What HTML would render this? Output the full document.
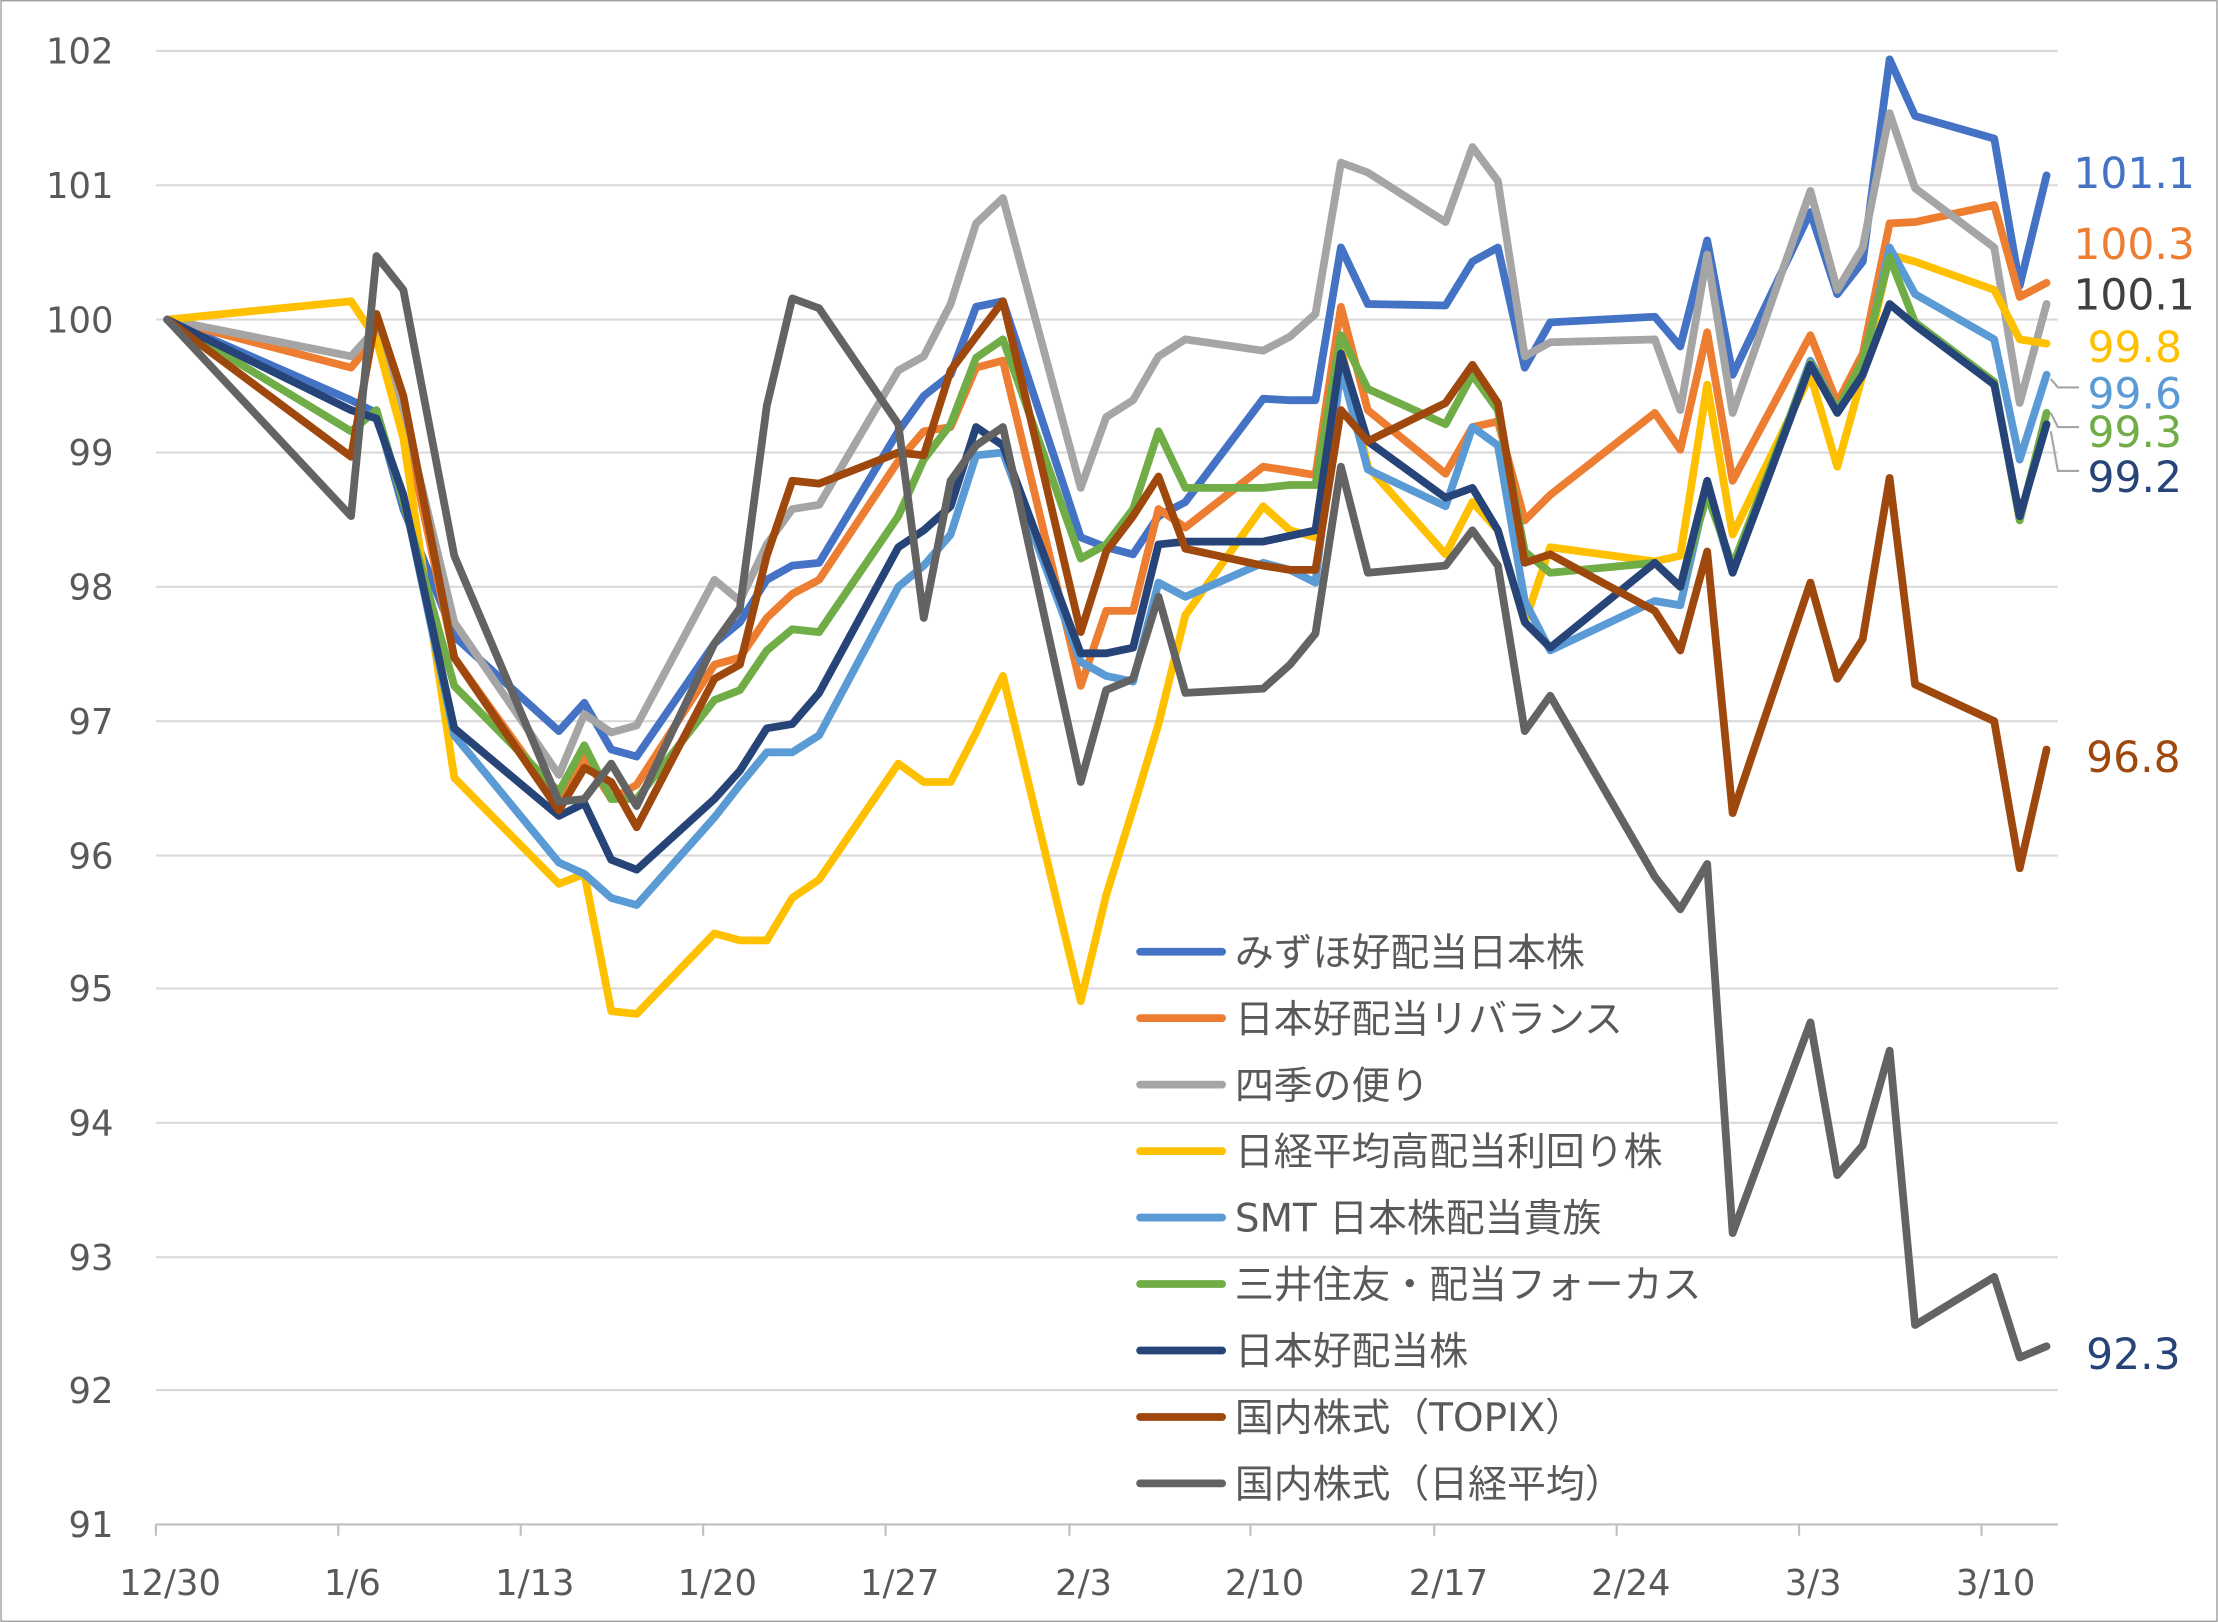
<!DOCTYPE html>
<html><head><meta charset="utf-8"><style>
html,body{margin:0;padding:0;background:#fff}
svg{display:block}
text{font-family:"DejaVu Sans","Noto Sans CJK JP",sans-serif}
</style></head><body>
<svg width="2218" height="1622" viewBox="0 0 1568 1147" xmlns="http://www.w3.org/2000/svg">
<rect x="0.5" y="0.5" width="1567" height="1146" fill="#fff" stroke="#a0a0a0"/>
<g stroke="#d9d9d9" stroke-width="1.5">
<line x1="110" x2="1455" y1="36" y2="36"/><line x1="110" x2="1455" y1="131" y2="131"/>
<line x1="110" x2="1455" y1="226" y2="226"/><line x1="110" x2="1455" y1="320" y2="320"/>
<line x1="110" x2="1455" y1="415" y2="415"/><line x1="110" x2="1455" y1="510" y2="510"/>
<line x1="110" x2="1455" y1="605" y2="605"/><line x1="110" x2="1455" y1="699" y2="699"/>
<line x1="110" x2="1455" y1="794" y2="794"/><line x1="110" x2="1455" y1="889" y2="889"/>
<line x1="110" x2="1455" y1="983" y2="983"/>
</g>
<g stroke="#bfbfbf" stroke-width="1.5">
<line x1="110" x2="1455" y1="1078" y2="1078"/>
<line x1="110" x2="110" y1="1078" y2="1086"/><line x1="239" x2="239" y1="1078" y2="1086"/>
<line x1="368" x2="368" y1="1078" y2="1086"/><line x1="497" x2="497" y1="1078" y2="1086"/>
<line x1="626" x2="626" y1="1078" y2="1086"/><line x1="756" x2="756" y1="1078" y2="1086"/>
<line x1="884" x2="884" y1="1078" y2="1086"/><line x1="1014" x2="1014" y1="1078" y2="1086"/>
<line x1="1143" x2="1143" y1="1078" y2="1086"/><line x1="1272" x2="1272" y1="1078" y2="1086"/>
<line x1="1401" x2="1401" y1="1078" y2="1086"/>
</g>
<g font-size="25" fill="#595959" text-anchor="end">
<text x="80" y="45">102</text><text x="80" y="140">101</text><text x="80" y="235">100</text>
<text x="80" y="329">99</text><text x="80" y="424">98</text><text x="80" y="519">97</text>
<text x="80" y="614">96</text><text x="80" y="708">95</text><text x="80" y="803">94</text>
<text x="80" y="898">93</text><text x="80" y="992">92</text><text x="80" y="1087">91</text>
</g>
<g font-size="25" fill="#595959" text-anchor="middle">
<text x="120" y="1128">12/30</text><text x="249" y="1128">1/6</text><text x="378" y="1128">1/13</text>
<text x="507" y="1128">1/20</text><text x="636" y="1128">1/27</text><text x="766" y="1128">2/3</text>
<text x="894" y="1128">2/10</text><text x="1024" y="1128">2/17</text><text x="1153" y="1128">2/24</text>
<text x="1282" y="1128">3/3</text><text x="1411" y="1128">3/10</text>
</g>
<g fill="none" stroke-width="5.5" stroke-linejoin="round" stroke-linecap="round">
<polyline stroke="#4472C4" points="118,226 248,283 266,292 285,360 321,450 395,517 413,497 432,530 450,535 505,455 523,440 542,410 560,400 579,398 635,305 653,280 672,265 690,217 709,213 764,380 782,387 801,392 819,365 838,355 893,282 912,283 930,283 948,175 967,215 1022,216 1041,185 1059,175 1078,260 1096,228 1170,224 1188,245 1207,170 1225,265 1280,150 1299,208 1317,185 1336,42 1354,82 1410,98 1428,202 1447,124"/>
<polyline stroke="#ED7D31" points="118,226 248,260 266,238 285,295 321,465 395,568 413,535 432,565 450,555 505,470 523,465 542,437 560,420 579,410 635,326 653,305 672,302 690,260 709,255 764,485 782,432 801,432 819,360 838,373 893,330 912,333 930,336 948,217 967,290 1022,335 1041,302 1059,298 1078,368 1096,350 1170,292 1188,318 1207,235 1225,340 1280,237 1299,285 1317,250 1336,158 1354,157 1410,145 1428,210 1447,200"/>
<polyline stroke="#A5A5A5" points="118,226 248,252 266,232 285,290 321,440 395,548 413,505 432,518 450,513 505,410 523,425 542,385 560,360 579,357 635,262 653,252 672,215 690,158 709,140 764,345 782,295 801,283 819,252 838,240 893,248 912,238 930,222 948,115 967,122 1022,157 1041,104 1059,128 1078,252 1096,242 1170,240 1188,290 1207,180 1225,292 1280,135 1299,205 1317,175 1336,80 1354,133 1410,175 1428,285 1447,215"/>
<polyline stroke="#FFC000" points="118,226 248,213 266,240 285,310 321,550 395,625 413,618 432,715 450,717 505,660 523,665 542,665 560,635 579,622 635,540 653,553 672,553 690,518 709,478 764,708 782,633 801,572 819,512 838,435 893,358 912,375 930,380 948,245 967,330 1022,392 1041,355 1059,375 1078,440 1096,387 1170,397 1188,393 1207,272 1225,378 1280,265 1299,330 1317,265 1336,180 1354,185 1410,205 1428,240 1447,243"/>
<polyline stroke="#5B9BD5" points="118,226 248,290 266,296 285,350 321,520 395,610 413,618 432,635 450,640 505,578 523,555 542,532 560,532 579,520 635,415 653,400 672,378 690,322 709,320 764,468 782,478 801,482 819,412 838,422 893,398 912,403 930,412 948,260 967,332 1022,358 1041,302 1059,315 1078,425 1096,460 1170,425 1188,428 1207,345 1225,405 1280,255 1299,290 1317,260 1336,175 1354,208 1410,240 1428,325 1447,265"/>
<polyline stroke="#70AD47" points="118,226 248,305 266,290 285,355 321,485 395,560 413,527 432,565 450,565 505,495 523,488 542,460 560,445 579,447 635,365 653,325 672,300 690,253 709,240 764,395 782,385 801,360 819,305 838,345 893,345 912,343 930,343 948,237 967,275 1022,300 1041,265 1059,290 1078,390 1096,405 1170,398 1188,415 1207,350 1225,400 1280,257 1299,290 1317,255 1336,182 1354,228 1410,270 1428,368 1447,292"/>
<polyline stroke="#264478" points="118,226 248,290 266,296 285,350 321,515 395,577 413,568 432,608 450,615 505,565 523,545 542,515 560,512 579,490 635,387 653,375 672,358 690,302 709,315 764,462 782,462 801,458 819,385 838,383 893,383 930,375 948,250 967,312 1022,352 1041,345 1059,375 1078,440 1096,458 1170,398 1188,415 1207,340 1225,405 1280,258 1299,292 1317,265 1336,215 1354,230 1410,272 1428,365 1447,300"/>
<polyline stroke="#9E480E" points="118,226 248,323 266,222 285,280 321,465 395,573 413,543 432,553 450,585 505,480 523,470 542,393 560,340 579,342 635,320 653,322 672,262 690,238 709,213 764,447 782,390 801,365 819,337 838,388 893,400 912,403 930,403 948,290 967,312 1022,285 1041,258 1059,285 1078,398 1096,392 1170,432 1188,460 1207,390 1225,575 1280,412 1299,480 1317,452 1336,338 1354,484 1410,510 1428,614 1447,530"/>
<polyline stroke="#636363" points="118,226 248,365 266,181 285,205 321,393 395,567 413,565 432,540 450,570 505,455 523,430 542,287 560,211 579,218 635,300 653,437 672,340 690,315 709,302 764,553 782,488 801,480 819,422 838,490 893,487 912,470 930,448 948,330 967,405 1022,400 1041,375 1059,400 1078,517 1096,492 1170,620 1188,643 1207,611 1225,872 1280,723 1299,831 1317,810 1336,743 1354,937 1410,903 1428,960 1447,952"/>
</g>
<g stroke="#a5a5a5" stroke-width="1.5" fill="none">
<polyline points="1450,268 1455,274 1470,274"/>
<polyline points="1450,292 1455,302 1470,302"/>
<polyline points="1450,305 1455,333 1470,333"/>
</g>
<g font-size="30">
<text x="1466" y="133" fill="#4472C4">101.1</text>
<text x="1466" y="183" fill="#ED7D31">100.3</text>
<text x="1466" y="219" fill="#404040">100.1</text>
<text x="1476" y="256" fill="#FFC000">99.8</text>
<text x="1476" y="289" fill="#5B9BD5">99.6</text>
<text x="1476" y="316" fill="#70AD47">99.3</text>
<text x="1476" y="348" fill="#264478">99.2</text>
<text x="1475" y="546" fill="#9E480E">96.8</text>
<text x="1475" y="968" fill="#264478">92.3</text>
</g>
<g stroke-width="5.5" stroke-linecap="round">
<line x1="806" x2="864" y1="673" y2="673" stroke="#4472C4"/>
<line x1="806" x2="864" y1="720" y2="720" stroke="#ED7D31"/>
<line x1="806" x2="864" y1="767" y2="767" stroke="#A5A5A5"/>
<line x1="806" x2="864" y1="814" y2="814" stroke="#FFC000"/>
<line x1="806" x2="864" y1="861" y2="861" stroke="#5B9BD5"/>
<line x1="806" x2="864" y1="908" y2="908" stroke="#70AD47"/>
<line x1="806" x2="864" y1="955" y2="955" stroke="#264478"/>
<line x1="806" x2="864" y1="1002" y2="1002" stroke="#9E480E"/>
<line x1="806" x2="864" y1="1049" y2="1049" stroke="#636363"/>
</g>
<g font-size="27.5" fill="#595959">
<text x="873" y="683">みずほ好配当日本株</text>
<text x="873" y="730">日本好配当リバランス</text>
<text x="873" y="777">四季の便り</text>
<text x="873" y="824">日経平均高配当利回り株</text>
<text x="873" y="871">SMT 日本株配当貴族</text>
<text x="873" y="918">三井住友・配当フォーカス</text>
<text x="873" y="965">日本好配当株</text>
<text x="873" y="1012">国内株式（TOPIX）</text>
<text x="873" y="1059">国内株式（日経平均）</text>
</g>
</svg>
</body></html>
